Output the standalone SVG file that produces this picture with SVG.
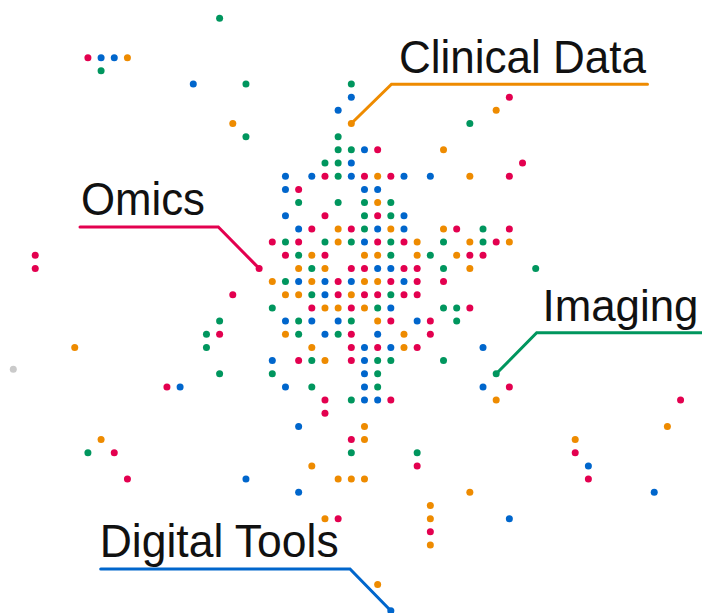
<svg xmlns="http://www.w3.org/2000/svg" width="702" height="613" viewBox="0 0 702 613">
<style>
.r{fill:#E3004F}.g{fill:#00965E}.b{fill:#0066CC}.o{fill:#EE8B00}.n{fill:#CACACA}
.lbl{font-family:"Liberation Sans",Arial,sans-serif;font-size:47px;fill:#111}
.ln{fill:none;stroke-width:3;stroke-linecap:round;stroke-linejoin:miter}
</style>
<rect width="702" height="613" fill="#fff"/>
<g id="connectors">
<polyline class="ln" stroke="#EE8B00" points="351.3,123.5 391.5,84.3 647.5,84.3"/>
<polyline class="ln" stroke="#E3004F" points="259.1,268.4 218.3,227 80,227"/>
<polyline class="ln" stroke="#00965E" points="496.2,373.8 536.7,332.7 706,332.7"/>
<polyline class="ln" stroke="#0066CC" points="390.8,610.8 350,569 100.7,569"/>
</g>
<circle class="n" cx="13.3" cy="369.3" r="3.5"/>
<g id="dots" transform="matrix(13.17 0 0 13.17 272.3 136.7)">
<circle class="g" cx="-4" cy="-9" r=".266"/>
<circle class="r" cx="-14" cy="-6" r=".266"/><circle class="b" cx="-13" cy="-6" r=".266"/><circle class="b" cx="-12" cy="-6" r=".266"/><circle class="o" cx="-11" cy="-6" r=".266"/>
<circle class="g" cx="-13" cy="-5" r=".266"/>
<circle class="b" cx="-6" cy="-4" r=".266"/><circle class="g" cx="-2" cy="-4" r=".266"/><circle class="g" cx="6" cy="-4" r=".266"/>
<circle class="b" cx="6" cy="-3" r=".266"/><circle class="r" cx="18" cy="-3" r=".266"/>
<circle class="b" cx="5" cy="-2" r=".266"/><circle class="o" cx="17" cy="-2" r=".266"/>
<circle class="o" cx="-3" cy="-1" r=".266"/><circle class="o" cx="6" cy="-1" r=".266"/><circle class="g" cx="15" cy="-1" r=".266"/>
<circle class="g" cx="-2" cy="0" r=".266"/><circle class="g" cx="5" cy="0" r=".266"/>
<circle class="g" cx="5" cy="1" r=".266"/><circle class="g" cx="6" cy="1" r=".266"/><circle class="b" cx="7" cy="1" r=".266"/><circle class="r" cx="8" cy="1" r=".266"/><circle class="o" cx="13" cy="1" r=".266"/>
<circle class="g" cx="4" cy="2" r=".266"/><circle class="g" cx="5" cy="2" r=".266"/><circle class="b" cx="6" cy="2" r=".266"/><circle class="r" cx="19" cy="2" r=".266"/>
<circle class="b" cx="1" cy="3" r=".266"/><circle class="b" cx="3" cy="3" r=".266"/><circle class="r" cx="4" cy="3" r=".266"/><circle class="g" cx="5" cy="3" r=".266"/><circle class="b" cx="6" cy="3" r=".266"/><circle class="r" cx="7" cy="3" r=".266"/><circle class="o" cx="8" cy="3" r=".266"/><circle class="r" cx="9" cy="3" r=".266"/><circle class="b" cx="10" cy="3" r=".266"/><circle class="b" cx="12" cy="3" r=".266"/><circle class="o" cx="15" cy="3" r=".266"/><circle class="r" cx="18" cy="3" r=".266"/>
<circle class="b" cx="1" cy="4" r=".266"/><circle class="r" cx="2" cy="4" r=".266"/><circle class="b" cx="7" cy="4" r=".266"/><circle class="b" cx="8" cy="4" r=".266"/>
<circle class="g" cx="2" cy="5" r=".266"/><circle class="g" cx="5" cy="5" r=".266"/><circle class="g" cx="7" cy="5" r=".266"/><circle class="o" cx="8" cy="5" r=".266"/><circle class="g" cx="9" cy="5" r=".266"/>
<circle class="b" cx="1" cy="6" r=".266"/><circle class="r" cx="4" cy="6" r=".266"/><circle class="g" cx="7" cy="6" r=".266"/><circle class="r" cx="8" cy="6" r=".266"/><circle class="g" cx="9" cy="6" r=".266"/><circle class="b" cx="10" cy="6" r=".266"/>
<circle class="b" cx="2" cy="7" r=".266"/><circle class="r" cx="3" cy="7" r=".266"/><circle class="o" cx="5" cy="7" r=".266"/><circle class="r" cx="6" cy="7" r=".266"/><circle class="g" cx="7" cy="7" r=".266"/><circle class="b" cx="8" cy="7" r=".266"/><circle class="o" cx="9" cy="7" r=".266"/><circle class="b" cx="10" cy="7" r=".266"/><circle class="o" cx="13" cy="7" r=".266"/><circle class="r" cx="14" cy="7" r=".266"/><circle class="g" cx="16" cy="7" r=".266"/><circle class="r" cx="18" cy="7" r=".266"/>
<circle class="r" cx="0" cy="8" r=".266"/><circle class="g" cx="1" cy="8" r=".266"/><circle class="r" cx="2" cy="8" r=".266"/><circle class="g" cx="4" cy="8" r=".266"/><circle class="o" cx="5" cy="8" r=".266"/><circle class="g" cx="6" cy="8" r=".266"/><circle class="b" cx="7" cy="8" r=".266"/><circle class="r" cx="8" cy="8" r=".266"/><circle class="g" cx="9" cy="8" r=".266"/><circle class="r" cx="10" cy="8" r=".266"/><circle class="o" cx="11" cy="8" r=".266"/><circle class="g" cx="13" cy="8" r=".266"/><circle class="o" cx="15" cy="8" r=".266"/><circle class="g" cx="16" cy="8" r=".266"/><circle class="r" cx="17" cy="8" r=".266"/><circle class="o" cx="18" cy="8" r=".266"/>
<circle class="r" cx="-18" cy="9" r=".266"/><circle class="r" cx="1" cy="9" r=".266"/><circle class="g" cx="2" cy="9" r=".266"/><circle class="o" cx="3" cy="9" r=".266"/><circle class="r" cx="4" cy="9" r=".266"/><circle class="o" cx="7" cy="9" r=".266"/><circle class="o" cx="8" cy="9" r=".266"/><circle class="g" cx="9" cy="9" r=".266"/><circle class="o" cx="11" cy="9" r=".266"/><circle class="g" cx="12" cy="9" r=".266"/><circle class="o" cx="14" cy="9" r=".266"/><circle class="r" cx="15" cy="9" r=".266"/><circle class="r" cx="16" cy="9" r=".266"/>
<circle class="r" cx="-18" cy="10" r=".266"/><circle class="r" cx="-1" cy="10" r=".266"/><circle class="o" cx="2" cy="10" r=".266"/><circle class="g" cx="3" cy="10" r=".266"/><circle class="o" cx="4" cy="10" r=".266"/><circle class="r" cx="6" cy="10" r=".266"/><circle class="r" cx="7" cy="10" r=".266"/><circle class="b" cx="8" cy="10" r=".266"/><circle class="b" cx="9" cy="10" r=".266"/><circle class="r" cx="10" cy="10" r=".266"/><circle class="r" cx="11" cy="10" r=".266"/><circle class="g" cx="13" cy="10" r=".266"/><circle class="o" cx="15" cy="10" r=".266"/><circle class="g" cx="20" cy="10" r=".266"/>
<circle class="o" cx="0" cy="11" r=".266"/><circle class="g" cx="1" cy="11" r=".266"/><circle class="b" cx="2" cy="11" r=".266"/><circle class="o" cx="3" cy="11" r=".266"/><circle class="b" cx="4" cy="11" r=".266"/><circle class="r" cx="5" cy="11" r=".266"/><circle class="b" cx="6" cy="11" r=".266"/><circle class="o" cx="7" cy="11" r=".266"/><circle class="o" cx="8" cy="11" r=".266"/><circle class="r" cx="9" cy="11" r=".266"/><circle class="b" cx="10" cy="11" r=".266"/><circle class="r" cx="11" cy="11" r=".266"/><circle class="r" cx="13" cy="11" r=".266"/>
<circle class="r" cx="-3" cy="12" r=".266"/><circle class="o" cx="1" cy="12" r=".266"/><circle class="o" cx="2" cy="12" r=".266"/><circle class="g" cx="3" cy="12" r=".266"/><circle class="b" cx="4" cy="12" r=".266"/><circle class="r" cx="5" cy="12" r=".266"/><circle class="o" cx="6" cy="12" r=".266"/><circle class="r" cx="7" cy="12" r=".266"/><circle class="r" cx="8" cy="12" r=".266"/><circle class="g" cx="9" cy="12" r=".266"/><circle class="r" cx="10" cy="12" r=".266"/><circle class="r" cx="11" cy="12" r=".266"/>
<circle class="g" cx="0" cy="13" r=".266"/><circle class="r" cx="3" cy="13" r=".266"/><circle class="o" cx="4" cy="13" r=".266"/><circle class="o" cx="5" cy="13" r=".266"/><circle class="r" cx="6" cy="13" r=".266"/><circle class="o" cx="7" cy="13" r=".266"/><circle class="g" cx="8" cy="13" r=".266"/><circle class="b" cx="9" cy="13" r=".266"/><circle class="g" cx="13" cy="13" r=".266"/><circle class="g" cx="14" cy="13" r=".266"/><circle class="r" cx="15" cy="13" r=".266"/>
<circle class="g" cx="-4" cy="14" r=".266"/><circle class="b" cx="1" cy="14" r=".266"/><circle class="g" cx="2" cy="14" r=".266"/><circle class="b" cx="3" cy="14" r=".266"/><circle class="b" cx="5" cy="14" r=".266"/><circle class="g" cx="6" cy="14" r=".266"/><circle class="o" cx="8" cy="14" r=".266"/><circle class="r" cx="9" cy="14" r=".266"/><circle class="b" cx="11" cy="14" r=".266"/><circle class="r" cx="12" cy="14" r=".266"/><circle class="g" cx="14" cy="14" r=".266"/>
<circle class="g" cx="-5" cy="15" r=".266"/><circle class="r" cx="-4" cy="15" r=".266"/><circle class="o" cx="1" cy="15" r=".266"/><circle class="g" cx="2" cy="15" r=".266"/><circle class="b" cx="4" cy="15" r=".266"/><circle class="g" cx="5" cy="15" r=".266"/><circle class="r" cx="6" cy="15" r=".266"/><circle class="b" cx="8" cy="15" r=".266"/><circle class="o" cx="10" cy="15" r=".266"/><circle class="r" cx="12" cy="15" r=".266"/>
<circle class="o" cx="-15" cy="16" r=".266"/><circle class="g" cx="-5" cy="16" r=".266"/><circle class="o" cx="3" cy="16" r=".266"/><circle class="r" cx="6" cy="16" r=".266"/><circle class="b" cx="7" cy="16" r=".266"/><circle class="r" cx="8" cy="16" r=".266"/><circle class="b" cx="9" cy="16" r=".266"/><circle class="o" cx="10" cy="16" r=".266"/><circle class="r" cx="11" cy="16" r=".266"/><circle class="b" cx="16" cy="16" r=".266"/>
<circle class="b" cx="0" cy="17" r=".266"/><circle class="r" cx="2" cy="17" r=".266"/><circle class="g" cx="3" cy="17" r=".266"/><circle class="o" cx="4" cy="17" r=".266"/><circle class="r" cx="6" cy="17" r=".266"/><circle class="b" cx="7" cy="17" r=".266"/><circle class="g" cx="8" cy="17" r=".266"/><circle class="g" cx="9" cy="17" r=".266"/><circle class="g" cx="13" cy="17" r=".266"/>
<circle class="g" cx="-4" cy="18" r=".266"/><circle class="g" cx="0" cy="18" r=".266"/><circle class="b" cx="7" cy="18" r=".266"/><circle class="g" cx="8" cy="18" r=".266"/><circle class="g" cx="17" cy="18" r=".266"/>
<circle class="r" cx="-8" cy="19" r=".266"/><circle class="b" cx="-7" cy="19" r=".266"/><circle class="b" cx="1" cy="19" r=".266"/><circle class="g" cx="3" cy="19" r=".266"/><circle class="b" cx="7" cy="19" r=".266"/><circle class="g" cx="8" cy="19" r=".266"/><circle class="b" cx="16" cy="19" r=".266"/><circle class="r" cx="18" cy="19" r=".266"/>
<circle class="r" cx="4" cy="20" r=".266"/><circle class="g" cx="6" cy="20" r=".266"/><circle class="b" cx="7" cy="20" r=".266"/><circle class="b" cx="8" cy="20" r=".266"/><circle class="r" cx="9" cy="20" r=".266"/><circle class="o" cx="17" cy="20" r=".266"/><circle class="r" cx="31" cy="20" r=".266"/>
<circle class="r" cx="4" cy="21" r=".266"/>
<circle class="b" cx="2" cy="22" r=".266"/><circle class="o" cx="7" cy="22" r=".266"/><circle class="o" cx="30" cy="22" r=".266"/>
<circle class="o" cx="-13" cy="23" r=".266"/><circle class="r" cx="6" cy="23" r=".266"/><circle class="o" cx="7" cy="23" r=".266"/><circle class="o" cx="23" cy="23" r=".266"/>
<circle class="g" cx="-14" cy="24" r=".266"/><circle class="r" cx="-12" cy="24" r=".266"/><circle class="g" cx="6" cy="24" r=".266"/><circle class="g" cx="11" cy="24" r=".266"/><circle class="r" cx="23" cy="24" r=".266"/>
<circle class="o" cx="3" cy="25" r=".266"/><circle class="r" cx="11" cy="25" r=".266"/><circle class="b" cx="24" cy="25" r=".266"/>
<circle class="r" cx="-11" cy="26" r=".266"/><circle class="b" cx="-2" cy="26" r=".266"/><circle class="o" cx="5" cy="26" r=".266"/><circle class="o" cx="6" cy="26" r=".266"/><circle class="o" cx="7" cy="26" r=".266"/><circle class="r" cx="24" cy="26" r=".266"/>
<circle class="b" cx="2" cy="27" r=".266"/><circle class="o" cx="15" cy="27" r=".266"/><circle class="b" cx="29" cy="27" r=".266"/>
<circle class="o" cx="12" cy="28" r=".266"/>
<circle class="o" cx="4" cy="29" r=".266"/><circle class="r" cx="5" cy="29" r=".266"/><circle class="o" cx="12" cy="29" r=".266"/><circle class="b" cx="18" cy="29" r=".266"/>
<circle class="r" cx="12" cy="30" r=".266"/>
<circle class="o" cx="12" cy="31" r=".266"/>
<circle class="o" cx="8" cy="34" r=".266"/>
<circle class="b" cx="9" cy="36" r=".266"/>
</g>
<g id="label-clinical-data"><text class="lbl" x="399" y="72.5" textLength="247" lengthAdjust="spacingAndGlyphs">Clinical Data</text></g>
<g id="label-omics"><text class="lbl" x="81" y="215" textLength="124" lengthAdjust="spacingAndGlyphs">Omics</text></g>
<g id="label-imaging"><text class="lbl" x="542.5" y="320.7" style="font-size:44.5px" textLength="156" lengthAdjust="spacingAndGlyphs">Imaging</text></g>
<g id="label-digital-tools"><text class="lbl" x="99.7" y="556.7" textLength="239" lengthAdjust="spacingAndGlyphs">Digital Tools</text></g>
</svg>
